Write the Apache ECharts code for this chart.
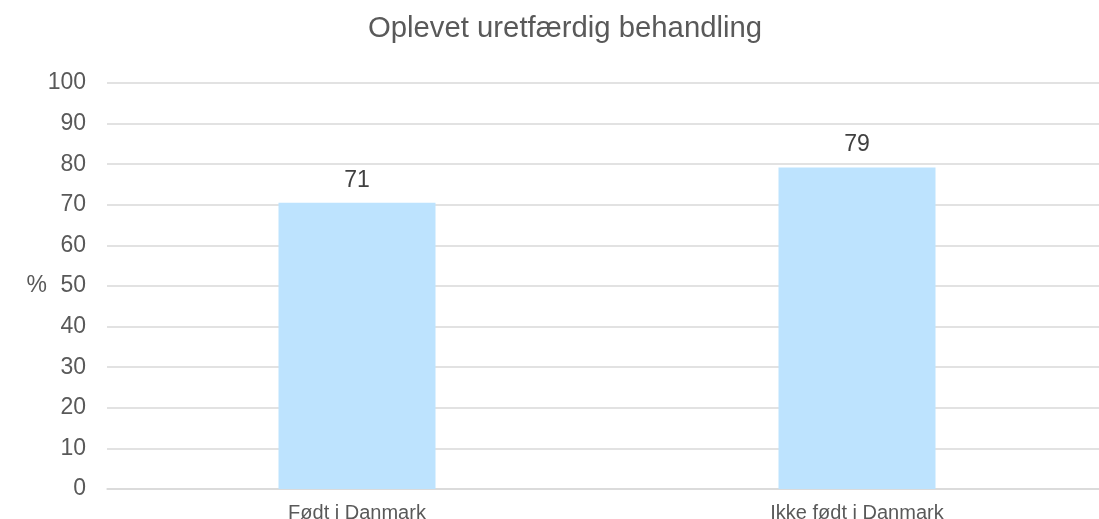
<!DOCTYPE html>
<html>
<head>
<meta charset="utf-8">
<script src="https://cdn.jsdelivr.net/npm/echarts@6/dist/echarts.min.js"></script>
<style>
  html, body { margin: 0; padding: 0; background: #ffffff; }
  #chart { width: 1099px; height: 519px; }
</style>
</head>
<body>
<div id="chart"></div>
<script>
// data
const categories = ['Født i Danmark', 'Ikke født i Danmark'];
const values = [70.5, 79.2];
const yTicks = [0, 10, 20, 30, 40, 50, 60, 70, 80, 90, 100];

const textColor = '#595959';
const chart = echarts.init(document.getElementById('chart'));

const option = {
    backgroundColor: '#ffffff',
    animation: false,
    title: {
        text: 'Oplevet uretfærdig behandling',
        left: 560,
        top: 9,
        textAlign: 'center',
        textStyle: {
            color: textColor,
            fontFamily: 'Liberation Sans, Arial, sans-serif',
            fontSize: 29.3,
            fontWeight: 'normal'
        }
    },
    grid: {
        left: 107,
        width: 1000,
        top: 83,
        bottom: 30,
        outerBoundsMode: 'none'
    },
    xAxis: {
        type: 'category',
        data: categories,
        axisLine: { show: true, lineStyle: { color: '#d9d9d9', width: 1.5 } },
        axisTick: { show: false },
        axisLabel: {
            color: textColor,
            fontFamily: 'Liberation Sans, Arial, sans-serif',
            fontSize: 20,
            margin: 14
        }
    },
    yAxis: {
        type: 'value',
        min: yTicks[0],
        max: yTicks[yTicks.length - 1],
        interval: 10,
        name: '%',
        nameLocation: 'middle',
        nameRotate: 0,
        nameGap: 60,
        nameMoveOverlap: false,
        nameTextStyle: {
            color: textColor,
            fontFamily: 'Liberation Sans, Arial, sans-serif',
            fontSize: 23
        },
        axisLine: { show: false },
        axisTick: { show: false },
        splitLine: { lineStyle: { color: '#d9d9d9', width: 1.5 } },
        axisLabel: {
            color: textColor,
            fontFamily: 'Liberation Sans, Arial, sans-serif',
            fontSize: 23,
            margin: 21
        }
    },
    series: [
        {
            type: 'bar',
            data: values,
            barWidth: 157,
            itemStyle: { color: '#bde3fe' },
            label: {
                show: true,
                position: 'top',
                distance: 11,
                color: '#404040',
                fontFamily: 'Liberation Sans, Arial, sans-serif',
                fontSize: 23,
                formatter: function (p) { return Math.round(p.value); }
            }
        }
    ]
};

chart.setOption(option);
</script>
</body>
</html>
